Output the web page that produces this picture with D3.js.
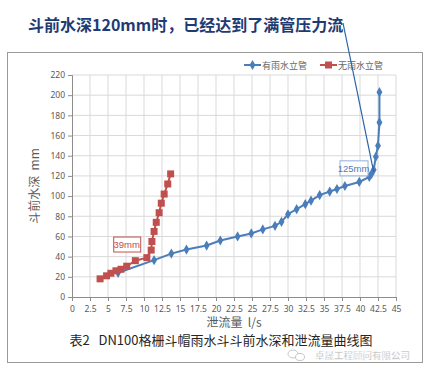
<!DOCTYPE html>
<html>
<head>
<meta charset="utf-8">
<script src="https://cdn.jsdelivr.net/npm/d3@7"></script>
<style>
  body { margin: 0; background: #fff; }
  svg { display: block; font-family: "Noto Sans CJK SC", "Noto Sans", sans-serif; }
  text { white-space: pre; }
</style>
</head>
<body>
<div id="chart"></div>
<script>
// 有雨水立管
var withPipeFlow = [6.4, 11.4, 13.8, 15.9, 18.7, 20.6, 23.0, 24.9, 26.5, 28.2, 29.1, 30.0, 31.2, 32.4, 33.2, 34.4, 35.8, 36.8, 37.9, 39.9, 41.3, 41.6, 41.9, 42.2, 42.5, 42.7, 42.7];
var withPipeDepth = [24, 36.5, 43, 47, 51, 56, 60, 63, 67, 70.5, 74.5, 82, 87, 92, 95.5, 101, 104.5, 107, 110, 114, 119, 122, 126, 139, 150, 173, 203];
// 无雨水立管
var noPipeFlow = [3.9, 4.8, 5.4, 6.1, 6.8, 7.6, 8.8, 10.4, 11.0, 11.1, 11.4, 11.7, 12.1, 12.4, 12.8, 13.3, 13.7];
var noPipeDepth = [18, 21, 23.5, 26, 27.5, 30.5, 36, 39, 46.5, 55, 65, 74, 83.5, 93, 102, 112, 122];

var xTicks = [0, 2.5, 5, 7.5, 10, 12.5, 15, 17.5, 20, 22.5, 25, 27.5, 30, 32.5, 35, 37.5, 40, 42.5, 45];
var yTicks = [0, 20, 40, 60, 80, 100, 120, 140, 160, 180, 200, 220];
var seriesNames = ["有雨水立管", "无雨水立管"];

var W = 428, H = 373;
var blue = "#4a7ebb", red = "#c0504d";

var svg = d3.select("#chart").append("svg").attr("width", W).attr("height", H);

// chart frame
svg.append("rect").attr("x", 7.5).attr("y", 52.5).attr("width", 415).attr("height", 310)
    .attr("fill", "none").attr("stroke", "#9a9a9a").attr("stroke-width", 1);

var x = d3.scaleLinear().domain([0, 45]).range([72, 396]);
var y = d3.scaleLinear().domain([0, 220]).range([297, 75]);

// grid
svg.append("g").selectAll("line").data(xTicks.slice(1)).enter().append("line")
    .attr("x1", function(d){return x(d);}).attr("x2", function(d){return x(d);})
    .attr("y1", y(0)).attr("y2", y(220))
    .attr("stroke", "#d9d9d9");
svg.append("g").selectAll("line").data(yTicks.slice(1)).enter().append("line")
    .attr("x1", x(0)).attr("x2", x(45))
    .attr("y1", function(d){return y(d);}).attr("y2", function(d){return y(d);})
    .attr("stroke", "#d9d9d9");

// axes
var xAxis = d3.axisBottom(x).tickValues(xTicks).tickSize(4).tickFormat(d3.format("~g"));
var yAxis = d3.axisLeft(y).tickValues(yTicks).tickSize(4);
var gx = svg.append("g").attr("transform", "translate(0," + y(0) + ")").call(xAxis);
var gy = svg.append("g").attr("transform", "translate(" + x(0) + ",0)").call(yAxis);
[gx, gy].forEach(function(g){
    g.select(".domain").attr("stroke", "#8c8c8c");
    g.selectAll(".tick line").attr("stroke", "#8c8c8c");
    g.selectAll(".tick text").attr("fill", "#595959")
        .style("font-size", "8.5px").style("font-family", "'Liberation Sans Narrow', 'Noto Sans', sans-serif");
});
gx.selectAll(".tick text").attr("dy", "0.9em");

// axis titles
svg.append("text").attr("x", x(22.5)).attr("y", 327).attr("text-anchor", "middle")
    .attr("fill", "#595959").style("font-size", "12px").text("泄流量  l/s");
svg.append("text").attr("transform", "translate(39," + y(110) + ") rotate(-90)")
    .attr("text-anchor", "middle").attr("fill", "#595959").style("font-size", "12px")
    .text("斗前水深  mm");

// series
var withPipe = withPipeFlow.map(function(v, i){return [v, withPipeDepth[i]];});
var noPipe = noPipeFlow.map(function(v, i){return [v, noPipeDepth[i]];});
var line = d3.line().x(function(d){return x(d[0]);}).y(function(d){return y(d[1]);});

svg.append("path").datum(withPipe).attr("d", line).attr("fill", "none")
    .attr("stroke", blue).attr("stroke-width", 2);
svg.append("path").datum(noPipe).attr("d", line).attr("fill", "none")
    .attr("stroke", red).attr("stroke-width", 2);

var diamond = d3.symbol().type(d3.symbolDiamond).size(30);
svg.append("g").selectAll("path").data(withPipe).enter().append("path")
    .attr("d", diamond)
    .attr("transform", function(d){return "translate(" + x(d[0]) + "," + y(d[1]) + ")";})
    .attr("fill", blue);
svg.append("g").selectAll("rect").data(noPipe).enter().append("rect")
    .attr("x", function(d){return x(d[0]) - 3.5;}).attr("y", function(d){return y(d[1]) - 3.5;})
    .attr("width", 7).attr("height", 7).attr("fill", red);

// data labels
function boxLabel(txt, cx, cy, w, color, border) {
    svg.append("rect").attr("x", cx - w / 2 + 0.5).attr("y", cy - 7.5).attr("width", w).attr("height", 15)
        .attr("fill", "#fff").attr("stroke", border).attr("stroke-width", 1);
    svg.append("text").attr("x", cx).attr("y", cy + 3.5).attr("text-anchor", "middle")
        .attr("fill", color).style("font-size", "9.5px").style("font-family", "'Liberation Sans Narrow', sans-serif")
        .text(txt);
}
boxLabel(noPipeDepth[7] + "mm", x(7.6), y(52), 27, red, red);
boxLabel("125mm", x(39.1), y(127.5), 28, blue, "#8fb0dc");

// legend
var legend = svg.append("g").attr("transform", "translate(244,65)");
seriesNames.forEach(function(name, i){
    var g = legend.append("g").attr("transform", "translate(" + (i * 76) + ",0)");
    var c = i === 0 ? blue : red;
    g.append("line").attr("x1", 0).attr("x2", 17).attr("stroke", c).attr("stroke-width", 2);
    if (i === 0) g.append("path").attr("d", diamond).attr("transform", "translate(8.5,0)").attr("fill", c);
    else g.append("rect").attr("x", 5).attr("y", -3.5).attr("width", 7).attr("height", 7).attr("fill", c);
    g.append("text").attr("x", 18).attr("y", 3.5).attr("fill", "#666")
        .style("font-size", "9px").text(name);
});

// headline + pointer
svg.append("text").attr("x", 28).attr("y", 31).attr("fill", "#1f3b73")
    .style("font-size", "16px").style("font-weight", "bold").text("斗前水深120mm时，已经达到了满管压力流");
svg.append("line").attr("x1", 343).attr("y1", 23).attr("x2", x(41.9)).attr("y2", y(124))
    .attr("stroke", "#2a64a8").attr("stroke-width", 1.2);

// caption
svg.append("text").attr("x", 221).attr("y", 345).attr("text-anchor", "middle")
    .attr("fill", "#262626").style("font-size", "13px").text("表2   DN100格栅斗帽雨水斗斗前水深和泄流量曲线图");

// watermark
var wm = svg.append("g").attr("opacity", 0.75);
wm.append("ellipse").attr("cx", 293).attr("cy", 354).attr("rx", 5).attr("ry", 4)
    .attr("fill", "none").attr("stroke", "#b5b5b5");
wm.append("ellipse").attr("cx", 300).attr("cy", 357).attr("rx", 4.5).attr("ry", 3.5)
    .attr("fill", "#fff").attr("stroke", "#b5b5b5");
wm.append("text").attr("x", 315).attr("y", 359).attr("fill", "#a8a8a8")
    .attr("stroke", "#fff").attr("stroke-width", 0.4)
    .style("font-size", "9.5px").style("font-weight", "bold").text("卓晟工程顾问有限公司");
</script>
</body>
</html>
